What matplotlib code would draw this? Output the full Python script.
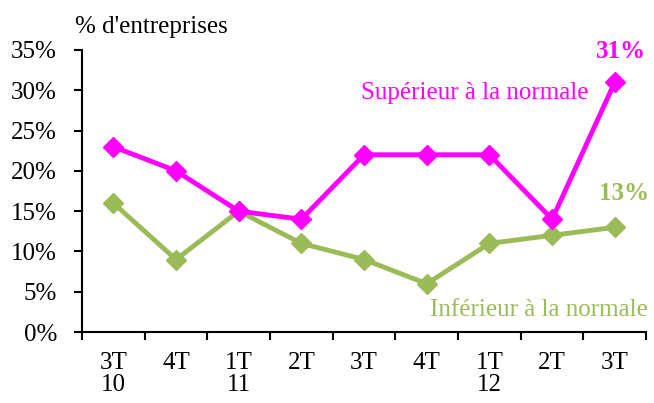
import matplotlib.pyplot as plt
from matplotlib.ticker import FixedLocator

plt.rcParams['font.family'] = ['Liberation Serif', 'DejaVu Serif']

quarters = ["3T\n10", "4T", "1T\n11", "2T", "3T", "4T", "1T\n12", "2T", "3T"]
superieur = [23, 20, 15, 14, 22, 22, 22, 14, 31]
inferieur = [16, 9, 15, 11, 9, 6, 11, 12, 13]

MAGENTA = "#FF00FF"
GREEN = "#9BBB59"
FS = 18

fig = plt.figure(figsize=(6.54, 4.03), dpi=100)
ax = fig.add_axes([0.1254, 0.176, 0.8626, 0.700])

x = list(range(len(quarters)))
ax.plot(x, inferieur, color=GREEN, lw=3.5, marker="D", ms=10.5, zorder=3)
ax.plot(x, superieur, color=MAGENTA, lw=3.5, marker="D", ms=10.5, zorder=4)

ax.set_xlim(-0.5, len(quarters) - 0.5)
ax.set_ylim(0, 35)
ax.set_yticks(range(0, 36, 5))
ax.set_yticklabels([f"{v}%" for v in range(0, 36, 5)])

ax.set_xticks(x)
ax.set_xticklabels(quarters, va="top", ha="center", linespacing=1.0)
ax.xaxis.set_minor_locator(FixedLocator([i - 0.5 for i in range(len(quarters) + 1)]))
ax.tick_params(axis="x", which="major", length=0, pad=14, labelsize=FS)
ax.tick_params(axis="x", which="minor", length=6, width=1.5, direction="out")
ax.tick_params(axis="y", length=6, width=1.5, direction="out", labelsize=FS, pad=12)

for s in ["top", "right"]:
    ax.spines[s].set_visible(False)
for s in ["left", "bottom"]:
    ax.spines[s].set_linewidth(1.5)

fig.text(75 / 654, 1 - 33 / 403, "% d'entreprises", fontsize=FS, ha="left", va="baseline")
ax.text(5.76, 29.6, "Supérieur à la normale", color=MAGENTA, fontsize=FS, ha="center", va="center")
ax.text(6.79, 2.7, "Inférieur à la normale", color=GREEN, fontsize=FS, ha="center", va="center")
ax.text(8.1, 33.4, "31%", color=MAGENTA, fontsize=FS, fontweight="bold", ha="center", va="bottom")
ax.text(8.15, 15.8, "13%", color=GREEN, fontsize=FS, fontweight="bold", ha="center", va="bottom")

fig.savefig("out.png", dpi=100)
